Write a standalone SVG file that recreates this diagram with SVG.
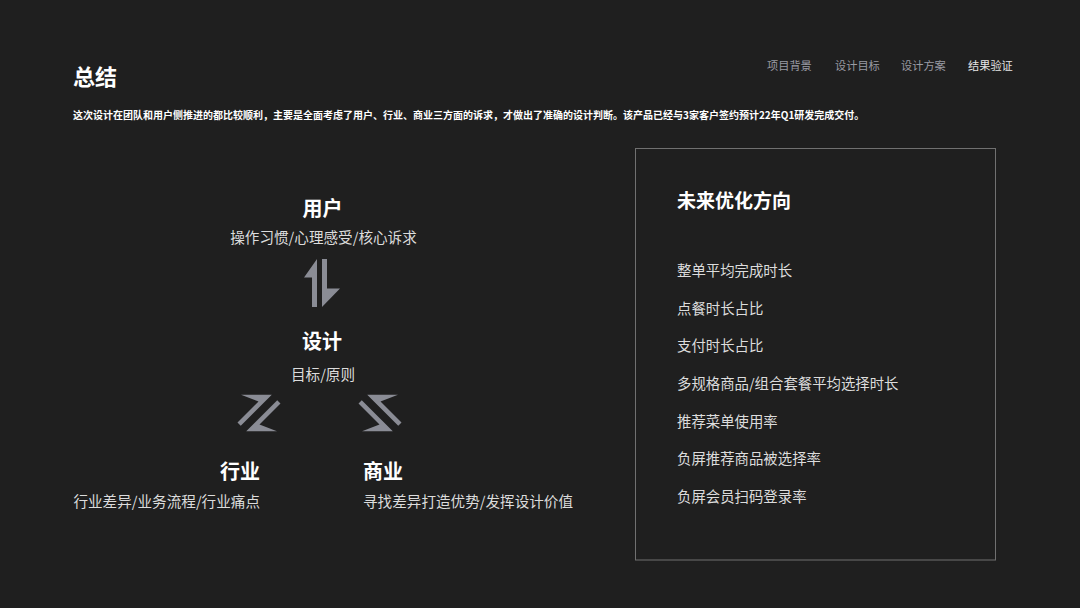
<svg xmlns="http://www.w3.org/2000/svg" width="1080" height="608" viewBox="0 0 1080 608">
<defs>
<style>
text{font-family:"Noto Sans CJK SC","Noto Sans",sans-serif;}
.title{font-size:22px;font-weight:700;fill:#ffffff;}
.nav{font-size:11.2px;fill:#9a9ba3;}
.nav-on{font-size:11.2px;fill:#e6e6e6;}
.intro{font-size:10px;font-weight:700;fill:#ffffff;}
.head{font-size:20px;font-weight:700;fill:#ffffff;}
.sub{font-size:14.6px;fill:#dcdcdc;}
.ptitle{font-size:19px;font-weight:700;fill:#ffffff;}
.item{font-size:14.4px;fill:#dcdcdc;}
.icon{fill:#8a8c95;}
</style>
<g id="diag">
<polygon points="-18,-18.3 12.8,-18.3 -18.25,12.75 -21.5,9.5 -0.5,-11.5"/>
<polygon points="18,18.3 -12.8,18.3 18.25,-12.75 21.5,-9.5 0.5,11.5"/>
</g>
</defs>
<rect width="1080" height="608" fill="#1f1f1f"/>
<g id="header">
<text class="title" x="73" y="85">总结</text>
<text class="nav" x="767" y="70">项目背景</text>
<text class="nav" x="835" y="70">设计目标</text>
<text class="nav" x="901" y="70">设计方案</text>
<text class="nav-on" x="968" y="70">结果验证</text>
<text class="intro" x="73" y="119">这次设计在团队和用户侧推进的都比较顺利，主要是全面考虑了用户、行业、商业三方面的诉求，才做出了准确的设计判断。该产品已经与3家客户签约预计22年Q1研发完成交付。</text>
</g>
<g id="node-user">
<text class="head" x="322.5" y="216" text-anchor="middle">用户</text>
<text class="sub" x="323.5" y="243" text-anchor="middle">操作习惯/心理感受/核心诉求</text>
</g>
<g id="node-design">
<text class="head" x="322" y="349" text-anchor="middle">设计</text>
<text class="sub" x="323" y="380" text-anchor="middle">目标/原则</text>
</g>
<g id="node-industry">
<text class="head" x="260" y="479" text-anchor="end">行业</text>
<text class="sub" x="260" y="507" text-anchor="end">行业差异/业务流程/行业痛点</text>
</g>
<g id="node-business">
<text class="head" x="363" y="479">商业</text>
<text class="sub" x="363" y="507">寻找差异打造优势/发挥设计价值</text>
</g>
<g id="connectors" class="icon">
<polygon points="317,259 304,277.5 312,277.5 312,307 317,307"/>
<polygon points="322,259 327,259 327,288.5 340,288.5 322,307"/>
<use href="#diag" transform="translate(259,413)"/>
<use href="#diag" transform="translate(380,413) scale(-1,1)"/>
</g>
<g id="panel">
<rect x="635.5" y="148.5" width="360" height="411.5" fill="none" stroke="#707070" stroke-width="1"/>
<text class="ptitle" x="677" y="208">未来优化方向</text>
<text class="item" x="677" y="276">整单平均完成时长</text>
<text class="item" x="677" y="313.7">点餐时长占比</text>
<text class="item" x="677" y="351.4">支付时长占比</text>
<text class="item" x="677" y="389">多规格商品/组合套餐平均选择时长</text>
<text class="item" x="677" y="426.7">推荐菜单使用率</text>
<text class="item" x="677" y="464.4">负屏推荐商品被选择率</text>
<text class="item" x="677" y="502">负屏会员扫码登录率</text>
</g>
</svg>
